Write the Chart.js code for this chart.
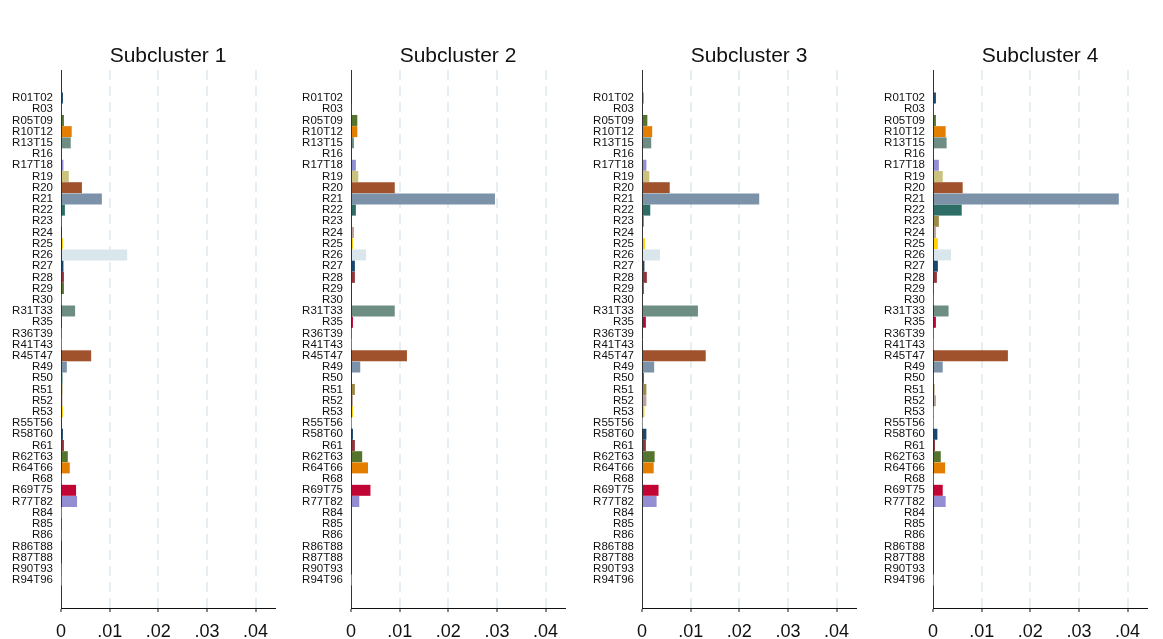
<!DOCTYPE html>
<html>
<head>
<meta charset="utf-8">
<script src="https://cdn.jsdelivr.net/npm/chart.js@4/dist/chart.umd.min.js"></script>
<style>
  html, body { margin: 0; padding: 0; background: #ffffff; }
  body { width: 1163px; height: 639px; position: relative; overflow: hidden; }
  .panel { position: absolute; top: 0; width: 290px; height: 639px; }
</style>
</head>
<body>
<div class="panel" style="left:0px"><canvas id="c1"></canvas></div>
<div class="panel" style="left:290px"><canvas id="c2"></canvas></div>
<div class="panel" style="left:581px"><canvas id="c3"></canvas></div>
<div class="panel" style="left:872px"><canvas id="c4"></canvas></div>
<script>
// ---- data ----
const categories = ['R01T02','R03','R05T09','R10T12','R13T15','R16','R17T18','R19','R20','R21','R22','R23','R24','R25','R26','R27','R28','R29','R30','R31T33','R35','R36T39','R41T43','R45T47','R49','R50','R51','R52','R53','R55T56','R58T60','R61','R62T63','R64T66','R68','R69T75','R77T82','R84','R85','R86','R86T88','R87T88','R90T93','R94T96'];

const subcluster1 = [0.0004,0.0001,0.0006,0.0022,0.0020,0.0001,0.0005,0.0016,0.0043,0.0084,0.0008,0.0001,0.0000,0.0004,0.0136,0.0005,0.0006,0.0006,0.0001,0.0029,0.0001,0.0001,0.0001,0.0062,0.0012,0.0003,0.0003,0.0003,0.0004,0.0000,0.0004,0.0006,0.0014,0.0018,0.0001,0.0031,0.0033,0.0001,0.0001,0.0001,0.0000,0.0000,0.0001,0.0001];
const subcluster2 = [0.0002,0.0001,0.0013,0.0013,0.0006,0.0002,0.0010,0.0015,0.0090,0.0296,0.0010,0.0002,0.0006,0.0004,0.0031,0.0008,0.0008,0.0002,0.0002,0.0090,0.0004,0.0001,0.0001,0.0115,0.0019,0.0002,0.0008,0.0004,0.0004,0.0001,0.0004,0.0008,0.0023,0.0035,0.0002,0.0040,0.0017,0.0002,0.0000,0.0000,0.0000,0.0000,0.0000,0.0001];
const subcluster3 = [0.0003,0.0000,0.0011,0.0021,0.0019,0.0000,0.0009,0.0015,0.0057,0.0241,0.0017,0.0004,0.0002,0.0006,0.0037,0.0005,0.0010,0.0004,0.0002,0.0115,0.0008,0.0000,0.0000,0.0131,0.0025,0.0004,0.0009,0.0009,0.0005,0.0001,0.0009,0.0008,0.0026,0.0024,0.0002,0.0034,0.0030,0.0000,0.0000,0.0000,0.0000,0.0000,0.0000,0.0000];
const subcluster4 = [0.0006,0.0001,0.0006,0.0026,0.0028,0.0001,0.0012,0.0020,0.0061,0.0382,0.0059,0.0012,0.0006,0.0010,0.0037,0.0010,0.0008,0.0001,0.0001,0.0032,0.0006,0.0001,0.0001,0.0154,0.0020,0.0001,0.0003,0.0006,0.0001,0.0001,0.0009,0.0004,0.0016,0.0025,0.0001,0.0020,0.0026,0.0000,0.0000,0.0000,0.0000,0.0000,0.0000,0.0001];

const panelTitles = ['Subcluster 1','Subcluster 2','Subcluster 3','Subcluster 4'];
const xTickValues = [0, 0.01, 0.02, 0.03, 0.04];
const xTickLabels = ['0', '.01', '.02', '.03', '.04'];

// ---- style ----
const palette = ['#1a476f','#90353b','#55752f','#e37e00','#6e8e84','#c10534','#938dd2','#cac27e','#a0522d','#7b92a8','#2d6d66','#9c8847','#bfa19c','#ffd200','#d9e6eb'];
const FONT = "'Liberation Sans', Arial, Helvetica, sans-serif";

const series = [subcluster1, subcluster2, subcluster3, subcluster4];

// title centred over the plot area (as in the reference)
const plotTitle = {
  id: 'plotTitle',
  afterDraw(chart, args, opts) {
    const { ctx, chartArea } = chart;
    ctx.save();
    ctx.fillStyle = '#111111';
    ctx.font = '21px ' + FONT;
    ctx.textAlign = 'center';
    ctx.textBaseline = 'alphabetic';
    ctx.fillText(opts.text, (chartArea.left + chartArea.right) / 2, 62);
    ctx.restore();
  }
};

series.forEach((vals, p) => {
  const ctx = document.getElementById('c' + (p + 1));
  new Chart(ctx, {
    type: 'bar',
    plugins: [plotTitle],
    data: {
      datasets: [{
        data: vals.map((v, i) => ({ x: v, y: i })),
        backgroundColor: vals.map((v, i) => palette[i % palette.length]),
        borderWidth: 0,
        barPercentage: 0.98,
        categoryPercentage: 1.0
      }]
    },
    options: {
      indexAxis: 'y',
      responsive: true,
      maintainAspectRatio: false,
      animation: false,
      layout: { padding: { left: 0, right: 15, top: 70, bottom: 0 } },
      plugins: {
        legend: { display: false },
        tooltip: { enabled: false },
        title: { display: false },
        plotTitle: { text: panelTitles[p] }
      },
      scales: {
        y: {
          type: 'linear',
          reverse: true,
          offset: false,
          min: -2.5,
          max: 45.5,
          afterBuildTicks: (scale) => { scale.ticks = categories.map((c, i) => ({ value: i })); },
          afterFit: (scale) => { scale.width = 61; },
          ticks: {
            autoSkip: false,
            padding: 8,
            color: '#111111',
            font: { family: FONT, size: 11.5 },
            callback: (v) => categories[v]
          },
          grid: { display: false, drawTicks: false },
          border: { display: true, color: '#333333', width: 1 }
        },
        x: {
          type: 'linear',
          min: 0,
          max: 0.044,
          afterBuildTicks: (scale) => { scale.ticks = xTickValues.map(v => ({ value: v })); },
          afterFit: (scale) => { scale.height = 31; },
          ticks: {
            padding: 9,
            color: '#111111',
            maxRotation: 0,
            font: { family: FONT, size: 18 },
            callback: (v) => { const k = xTickValues.indexOf(v); return k >= 0 ? xTickLabels[k] : ''; }
          },
          grid: {
            display: true,
            drawTicks: true,
            tickLength: 4,
            tickColor: '#111111',
            tickWidth: 1,
            lineWidth: 2,
            color: (c) => (c.tick && c.tick.value === 0) ? 'rgba(0,0,0,0)' : '#e6eef1'
          },
          border: { display: true, color: '#111111', width: 1, dash: [10, 6] }
        }
      }
    }
  });
});
</script>
</body>
</html>
